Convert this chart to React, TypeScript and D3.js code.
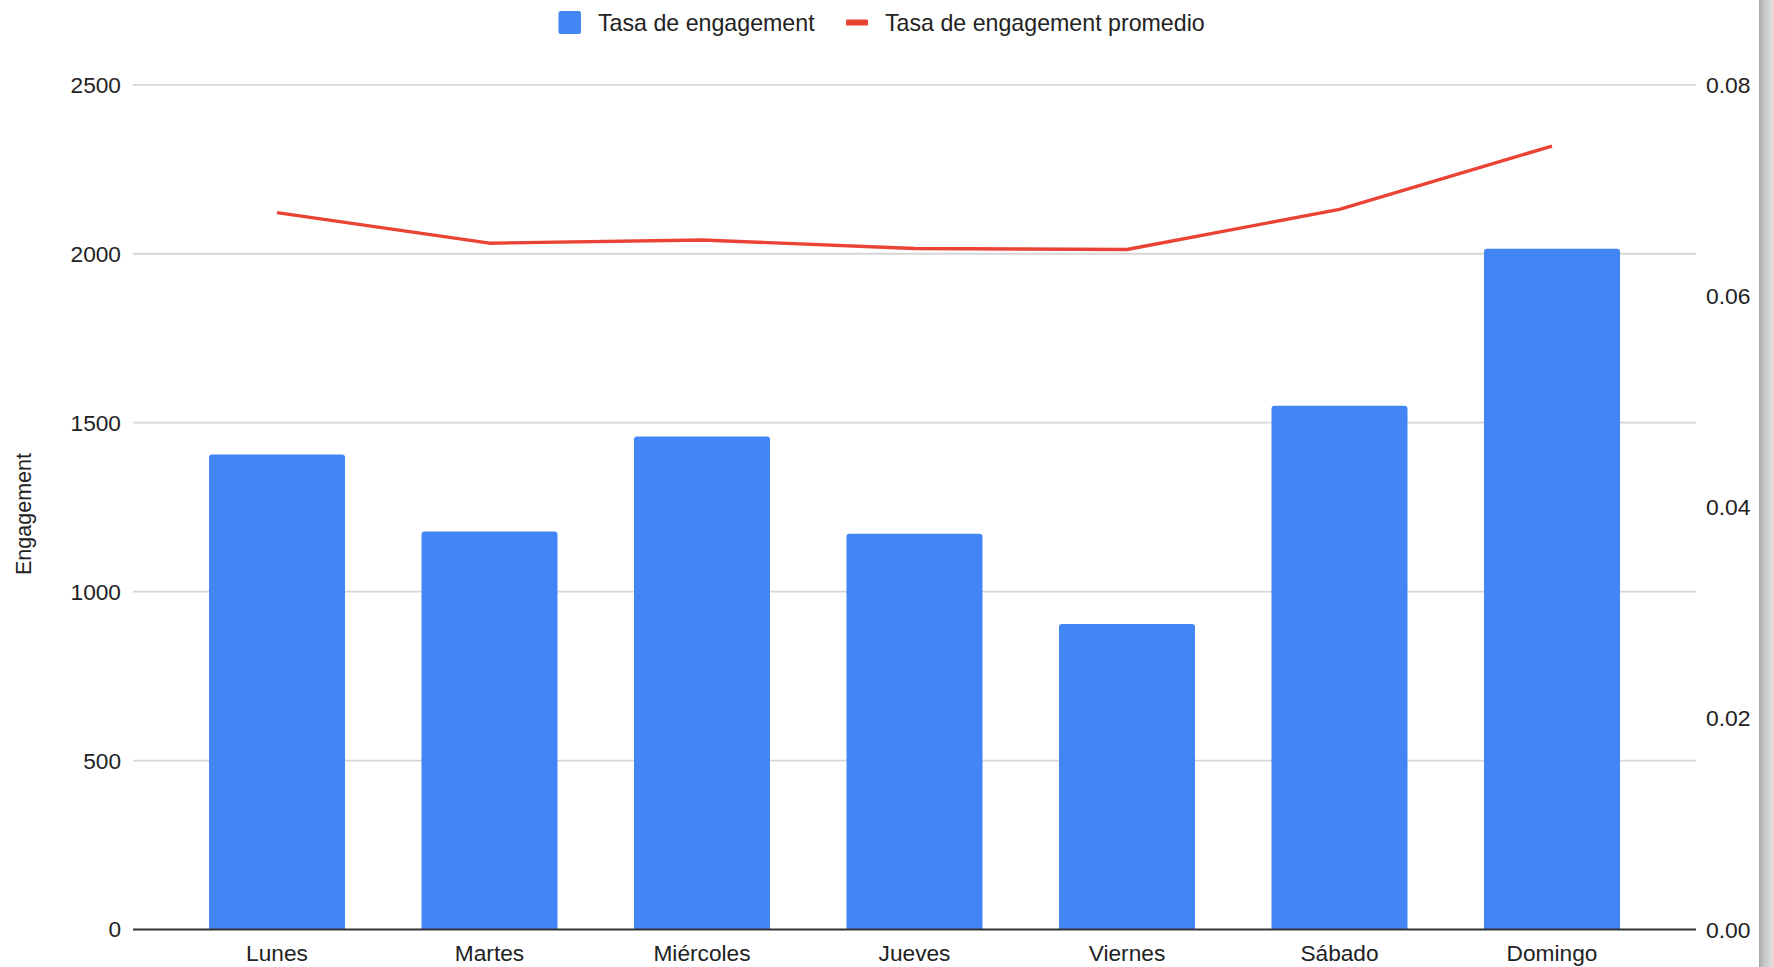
import React from "react";
import * as d3 from "d3";

const categories = ["Lunes", "Martes", "Miércoles", "Jueves", "Viernes", "Sábado", "Domingo"];
const engagement = [1406, 1178, 1459, 1171, 904, 1550, 2015];
const avgRate = [0.0679, 0.0650, 0.0653, 0.0645, 0.0644, 0.0682, 0.0742];
const leftTicks = [0, 500, 1000, 1500, 2000, 2500];
const rightTicks = [0, 0.02, 0.04, 0.06, 0.08];
const legendLabels = ["Tasa de engagement", "Tasa de engagement promedio"];
const yTitle = "Engagement";

const W = 1773;
const H = 967;
const plotLeft = 133;
const plotRight = 1696;
const plotTop = 84.8;
const plotBottom = 929.5;
const BLUE = "#4285f4";
const RED = "#ea4335";
const FONT = "'Liberation Sans', Arial, Helvetica, sans-serif";

export default function App() {
  const x = d3
    .scaleBand<string>()
    .domain(categories)
    .range([170.75, 1658.25])
    .paddingInner(0.36)
    .paddingOuter(0.18);
  const yL = d3.scaleLinear().domain([0, 2500]).range([plotBottom, plotTop]);
  const yR = d3.scaleLinear().domain([0, 0.08]).range([plotBottom, plotTop]);

  const line = d3
    .line<number>()
    .x((_, i) => (x(categories[i]) as number) + x.bandwidth() / 2)
    .y((d) => yR(d));

  const r = 3;
  const barPath = (x0: number, y0: number, w: number, h: number) =>
    `M${x0},${y0 + h}V${y0 + r}Q${x0},${y0} ${x0 + r},${y0}H${x0 + w - r}Q${x0 + w},${y0} ${x0 + w},${y0 + r}V${y0 + h}Z`;

  return (
    <svg
      width={W}
      height={H}
      style={{ position: "absolute", left: 0, top: 0, background: "#fff" }}
      fontFamily={FONT}
    >
      <defs>
        <linearGradient id="edge" x1="0" x2="1" y1="0" y2="0">
          <stop offset="0" stopColor="#a9a9a9" />
          <stop offset="0.35" stopColor="#c4c4c4" />
          <stop offset="1" stopColor="#e2e2e2" />
        </linearGradient>
      </defs>
      <rect x={0} y={0} width={W} height={H} fill="#fff" />

      {/* gridlines */}
      {leftTicks.slice(1).map((t) => (
        <line
          key={t}
          x1={plotLeft}
          x2={plotRight}
          y1={yL(t)}
          y2={yL(t)}
          stroke="#d6d6d6"
          strokeWidth={1.8}
        />
      ))}

      {/* bars */}
      {engagement.map((v, i) => {
        const bx = x(categories[i]) as number;
        const by = yL(v);
        return <path key={i} d={barPath(bx, by, x.bandwidth(), plotBottom - by)} fill={BLUE} />;
      })}

      {/* baseline */}
      <line x1={plotLeft} x2={plotRight} y1={plotBottom} y2={plotBottom} stroke="#333" strokeWidth={2} />

      {/* line */}
      <path d={line(avgRate) as string} fill="none" stroke={RED} strokeWidth={3.4} strokeLinejoin="round" />

      {/* left ticks */}
      {leftTicks.map((t) => (
        <text key={t} x={121} y={yL(t)} dy="0.35em" textAnchor="end" fontSize={22.7} fill="#222">
          {t}
        </text>
      ))}

      {/* right ticks */}
      {rightTicks.map((t) => (
        <text key={t} x={1706} y={yR(t)} dy="0.35em" textAnchor="start" fontSize={22.9} fill="#222">
          {d3.format(".2f")(t)}
        </text>
      ))}

      {/* categories */}
      {categories.map((c) => (
        <text
          key={c}
          x={(x(c) as number) + x.bandwidth() / 2}
          y={953}
          dy="0.35em"
          textAnchor="middle"
          fontSize={22.7}
          fill="#222"
        >
          {c}
        </text>
      ))}

      {/* y title */}
      <text
        transform={`translate(23,514) rotate(-90)`}
        textAnchor="middle"
        dy="0.35em"
        fontSize={21.5}
        fill="#222"
      >
        {yTitle}
      </text>

      {/* legend */}
      <rect x={558.5} y={11} width={22.5} height={23} rx={2.5} fill={BLUE} />
      <text x={598} y={22.5} dy="0.35em" fontSize={23.2} fill="#222">
        {legendLabels[0]}
      </text>
      <rect x={846} y={19.5} width={22} height={6} rx={1} fill={RED} />
      <text x={885} y={22.5} dy="0.35em" fontSize={23.2} fill="#222">
        {legendLabels[1]}
      </text>

      {/* right window edge */}
      <rect x={1759} y={0} width={14} height={H} fill="url(#edge)" />
    </svg>
  );
}
